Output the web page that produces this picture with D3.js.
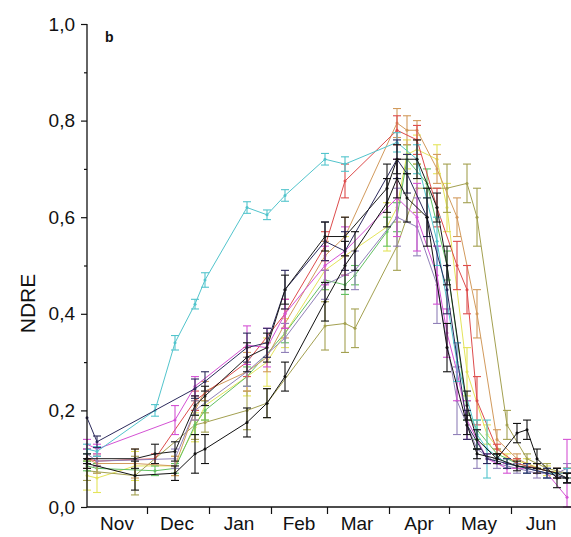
<!DOCTYPE html>
<html>
<head>
<meta charset="utf-8">
<script src="https://cdn.jsdelivr.net/npm/d3@7"></script>
<style>
  body { margin: 0; background: #fff; }
  text { font-family: "Liberation Sans", Arial, sans-serif; fill: #111; }
</style>
</head>
<body>
<script>
// [date, mean, sd]
const cyan = [
  ['2014-11-01', 0.12, 0.01], ['2014-11-06', 0.115, 0.01], ['2014-12-05', 0.20, 0.012],
  ['2014-12-15', 0.34, 0.015], ['2014-12-25', 0.42, 0.01], ['2014-12-30', 0.47, 0.015],
  ['2015-01-20', 0.62, 0.012], ['2015-01-30', 0.605, 0.01], ['2015-02-08', 0.645, 0.012],
  ['2015-02-28', 0.72, 0.012], ['2015-03-10', 0.71, 0.015], ['2015-04-05', 0.755, 0.02],
  ['2015-04-15', 0.72, 0.03], ['2015-04-25', 0.55, 0.05], ['2015-05-05', 0.30, 0.04],
  ['2015-05-15', 0.15, 0.03], ['2015-05-20', 0.12, 0.06], ['2015-05-30', 0.09, 0.01],
  ['2015-06-09', 0.08, 0.01], ['2015-06-19', 0.07, 0.01], ['2015-06-29', 0.07, 0.01]
]
const navy = [
  ['2014-11-01', 0.185, 0.0], ['2014-11-06', 0.135, 0.012], ['2014-12-25', 0.245, 0.02],
  ['2014-12-30', 0.26, 0.02], ['2015-01-20', 0.33, 0.03], ['2015-01-30', 0.34, 0.03],
  ['2015-02-08', 0.45, 0.04], ['2015-02-28', 0.55, 0.04], ['2015-03-10', 0.53, 0.04],
  ['2015-04-05', 0.72, 0.04], ['2015-04-10', 0.69, 0.04], ['2015-04-20', 0.60, 0.04],
  ['2015-04-30', 0.45, 0.05], ['2015-05-10', 0.17, 0.03], ['2015-05-20', 0.10, 0.01],
  ['2015-05-30', 0.09, 0.01], ['2015-06-09', 0.08, 0.01], ['2015-06-19', 0.07, 0.01],
  ['2015-06-29', 0.06, 0.01]
]
const magenta = [
  ['2014-11-01', 0.13, 0.01], ['2014-11-06', 0.12, 0.01], ['2014-12-15', 0.18, 0.03],
  ['2014-12-25', 0.25, 0.02], ['2015-01-20', 0.335, 0.04], ['2015-01-30', 0.33, 0.04],
  ['2015-02-08', 0.40, 0.03], ['2015-02-28', 0.50, 0.04], ['2015-03-10', 0.53, 0.05],
  ['2015-04-05', 0.64, 0.08], ['2015-04-15', 0.60, 0.07], ['2015-04-25', 0.48, 0.06],
  ['2015-04-30', 0.36, 0.05], ['2015-05-05', 0.28, 0.06], ['2015-05-10', 0.18, 0.04],
  ['2015-05-20', 0.10, 0.01], ['2015-05-30', 0.08, 0.01], ['2015-06-09', 0.08, 0.01],
  ['2015-06-19', 0.07, 0.01], ['2015-06-29', 0.02, 0.12]
]
const blackLow = [
  ['2014-11-01', 0.09, 0.01], ['2014-11-25', 0.065, 0.03], ['2014-12-15', 0.07, 0.015],
  ['2014-12-25', 0.11, 0.04], ['2014-12-30', 0.12, 0.03], ['2015-01-20', 0.175, 0.03],
  ['2015-01-30', 0.215, 0.03], ['2015-02-08', 0.27, 0.03], ['2015-02-28', 0.425, 0.04],
  ['2015-03-10', 0.50, 0.05], ['2015-03-15', 0.53, 0.04], ['2015-03-31', 0.63, 0.05],
  ['2015-04-05', 0.68, 0.04], ['2015-04-10', 0.64, 0.05], ['2015-04-20', 0.60, 0.06],
  ['2015-04-30', 0.33, 0.05], ['2015-05-10', 0.17, 0.02], ['2015-05-15', 0.11, 0.01],
  ['2015-05-25', 0.10, 0.01], ['2015-06-04', 0.153, 0.02], ['2015-06-09', 0.16, 0.02],
  ['2015-06-14', 0.10, 0.02], ['2015-06-24', 0.06, 0.02], ['2015-06-29', 0.06, 0.01]
]
const olive = [
  ['2014-11-01', 0.075, 0.02], ['2014-11-25', 0.065, 0.04], ['2014-12-25', 0.17, 0.03],
  ['2014-12-30', 0.175, 0.02], ['2015-01-20', 0.20, 0.04], ['2015-01-30', 0.215, 0.03],
  ['2015-02-28', 0.375, 0.05], ['2015-03-10', 0.38, 0.06], ['2015-03-15', 0.37, 0.04],
  ['2015-04-05', 0.54, 0.05], ['2015-04-15', 0.66, 0.05], ['2015-04-30', 0.66, 0.05],
  ['2015-05-10', 0.67, 0.04], ['2015-05-15', 0.60, 0.06], ['2015-05-30', 0.17, 0.03],
  ['2015-06-09', 0.10, 0.01], ['2015-06-19', 0.08, 0.01], ['2015-06-29', 0.07, 0.01]
]
const yellow = [
  ['2014-11-01', 0.065, 0.03], ['2014-11-06', 0.06, 0.03], ['2014-11-25', 0.085, 0.03],
  ['2014-12-15', 0.085, 0.02], ['2014-12-25', 0.165, 0.03], ['2014-12-30', 0.21, 0.03],
  ['2015-01-20', 0.27, 0.04], ['2015-01-30', 0.30, 0.05], ['2015-02-08', 0.36, 0.03],
  ['2015-02-28', 0.49, 0.04], ['2015-03-10', 0.52, 0.04], ['2015-03-31', 0.58, 0.05],
  ['2015-04-05', 0.62, 0.06], ['2015-04-10', 0.73, 0.03], ['2015-04-15', 0.74, 0.03],
  ['2015-04-25', 0.72, 0.03], ['2015-04-30', 0.62, 0.05], ['2015-05-10', 0.28, 0.05],
  ['2015-05-20', 0.15, 0.02], ['2015-05-30', 0.10, 0.01], ['2015-06-09', 0.09, 0.01],
  ['2015-06-19', 0.075, 0.01], ['2015-06-29', 0.07, 0.01]
]
const red = [
  ['2014-11-01', 0.10, 0.01], ['2014-11-06', 0.095, 0.01], ['2014-12-05', 0.10, 0.01],
  ['2014-12-25', 0.22, 0.02], ['2015-01-20', 0.30, 0.03], ['2015-02-08', 0.40, 0.03],
  ['2015-02-28', 0.54, 0.03], ['2015-03-10', 0.675, 0.035], ['2015-04-05', 0.78, 0.03],
  ['2015-04-15', 0.76, 0.03], ['2015-04-25', 0.62, 0.04], ['2015-05-05', 0.50, 0.05],
  ['2015-05-10', 0.45, 0.05], ['2015-05-15', 0.22, 0.05], ['2015-05-25', 0.12, 0.01],
  ['2015-06-04', 0.09, 0.01], ['2015-06-14', 0.08, 0.01], ['2015-06-24', 0.07, 0.01],
  ['2015-06-29', 0.07, 0.01]
]
const tan = [
  ['2014-11-01', 0.10, 0.02], ['2014-11-06', 0.09, 0.02], ['2014-11-25', 0.09, 0.03],
  ['2014-12-15', 0.085, 0.02], ['2014-12-25', 0.20, 0.02], ['2014-12-30', 0.24, 0.02],
  ['2015-01-20', 0.28, 0.04], ['2015-01-30', 0.31, 0.03], ['2015-02-08', 0.38, 0.03],
  ['2015-02-28', 0.52, 0.03], ['2015-03-10', 0.56, 0.04], ['2015-04-05', 0.795, 0.03],
  ['2015-04-10', 0.78, 0.03], ['2015-04-15', 0.78, 0.02], ['2015-04-25', 0.70, 0.03],
  ['2015-05-05', 0.60, 0.04], ['2015-05-15', 0.40, 0.05], ['2015-05-25', 0.14, 0.02],
  ['2015-06-04', 0.10, 0.01], ['2015-06-14', 0.08, 0.01], ['2015-06-24', 0.07, 0.01],
  ['2015-06-29', 0.07, 0.01]
]
const green = [
  ['2014-11-01', 0.085, 0.01], ['2014-11-06', 0.08, 0.01], ['2014-12-05', 0.075, 0.01],
  ['2014-12-15', 0.08, 0.01], ['2014-12-25', 0.17, 0.02], ['2014-12-30', 0.20, 0.02],
  ['2015-01-20', 0.27, 0.02], ['2015-02-08', 0.36, 0.02], ['2015-02-28', 0.47, 0.02],
  ['2015-03-10', 0.46, 0.02], ['2015-03-15', 0.48, 0.02], ['2015-03-31', 0.57, 0.03],
  ['2015-04-05', 0.60, 0.03], ['2015-04-10', 0.72, 0.03], ['2015-04-20', 0.67, 0.03],
  ['2015-04-30', 0.50, 0.03], ['2015-05-10', 0.20, 0.02], ['2015-05-15', 0.16, 0.02],
  ['2015-05-25', 0.11, 0.01], ['2015-06-04', 0.09, 0.01], ['2015-06-14', 0.08, 0.01],
  ['2015-06-24', 0.07, 0.01], ['2015-06-29', 0.07, 0.01]
]
const violet = [
  ['2014-11-01', 0.11, 0.01], ['2014-11-06', 0.095, 0.01], ['2014-12-15', 0.10, 0.02],
  ['2014-12-25', 0.20, 0.02], ['2015-01-20', 0.28, 0.03], ['2015-02-08', 0.35, 0.03],
  ['2015-02-28', 0.46, 0.03], ['2015-03-15', 0.49, 0.04], ['2015-04-05', 0.60, 0.06],
  ['2015-04-15', 0.58, 0.06], ['2015-04-25', 0.46, 0.08], ['2015-05-05', 0.22, 0.07],
  ['2015-05-15', 0.12, 0.04], ['2015-05-25', 0.09, 0.01], ['2015-06-04', 0.08, 0.01],
  ['2015-06-14', 0.07, 0.01], ['2015-06-24', 0.07, 0.01], ['2015-06-29', 0.08, 0.01]
]
const blackMid = [
  ['2014-11-01', 0.10, 0.01], ['2014-11-25', 0.10, 0.02], ['2014-12-05', 0.11, 0.02],
  ['2014-12-15', 0.115, 0.02], ['2014-12-25', 0.21, 0.02], ['2014-12-30', 0.23, 0.02],
  ['2015-01-20', 0.31, 0.03], ['2015-01-30', 0.33, 0.03], ['2015-02-08', 0.45, 0.03],
  ['2015-02-28', 0.56, 0.03], ['2015-03-10', 0.56, 0.04], ['2015-03-31', 0.66, 0.05],
  ['2015-04-05', 0.72, 0.03], ['2015-04-15', 0.72, 0.04], ['2015-04-25', 0.62, 0.03],
  ['2015-04-30', 0.50, 0.04], ['2015-05-10', 0.21, 0.03], ['2015-05-15', 0.14, 0.02],
  ['2015-05-25', 0.10, 0.01], ['2015-06-04', 0.085, 0.01], ['2015-06-14', 0.08, 0.01],
  ['2015-06-24', 0.07, 0.01], ['2015-06-29', 0.06, 0.01]
]

const seriesList = [
  {name: 'yellow', color: '#e4e45a', data: yellow},
  {name: 'olive', color: '#a3a050', data: olive},
  {name: 'green', color: '#62c062', data: green},
  {name: 'tan', color: '#d29a5c', data: tan},
  {name: 'red', color: '#dd4c4c', data: red},
  {name: 'violet', color: '#9080b8', data: violet},
  {name: 'magenta', color: '#d452d4', data: magenta},
  {name: 'cyan', color: '#52c4cc', data: cyan},
  {name: 'navy', color: '#2c2a5c', data: navy},
  {name: 'blackMid', color: '#1a1a1a', data: blackMid},
  {name: 'blackLow', color: '#111111', data: blackLow},
]

const yTicks = [0, 0.2, 0.4, 0.6, 0.8, 1.0]
const yMinorTicks = [0.1, 0.3, 0.5, 0.7, 0.9]
const monthBounds = ['2014-12-01', '2015-01-01', '2015-02-01', '2015-03-01', '2015-04-01', '2015-05-01', '2015-06-01']
const monthLabels = ['Nov', 'Dec', 'Jan', 'Feb', 'Mar', 'Apr', 'May', 'Jun']
const monthMids = ['2014-11-16', '2014-12-16', '2015-01-16', '2015-02-15', '2015-03-16', '2015-04-16', '2015-05-16', '2015-06-16']

const width = 571
const height = 537
const margin = {top: 24, right: 0, bottom: 30, left: 87}
const parse = d3.timeParse('%Y-%m-%d')
const comma = d3.formatLocale({decimal: ',', thousands: '.', grouping: [3], currency: ['', '']}).format('.1f')

const x = d3.scaleTime()
  .domain([parse('2014-11-01'), parse('2015-07-01')])
  .range([margin.left, width - margin.right])
const y = d3.scaleLinear()
  .domain([0, 1])
  .range([height - margin.bottom, margin.top])

const svg = d3.select('body').append('svg')
  .attr('width', width)
  .attr('height', height)

const plot = svg.append('g').attr('class', 'marks')

const line = d3.line()
  .x(d => x(parse(d[0])))
  .y(d => y(d[1]))

seriesList.forEach(s => {
  const g = plot.append('g').attr('class', 'series series-' + s.name)

  // error bars
  const bars = g.selectAll('.err')
    .data(s.data.filter(d => d[2] > 0))
    .enter().append('g')
    .attr('class', 'err')
    .attr('stroke', s.color)
    .attr('stroke-width', 1.1)
  const cap = 4
  bars.append('line')
    .attr('x1', d => x(parse(d[0]))).attr('x2', d => x(parse(d[0])))
    .attr('y1', d => y(Math.max(0, d[1] - d[2]))).attr('y2', d => y(d[1] + d[2]))
  bars.append('line')
    .attr('x1', d => x(parse(d[0])) - cap).attr('x2', d => x(parse(d[0])) + cap)
    .attr('y1', d => y(d[1] + d[2])).attr('y2', d => y(d[1] + d[2]))
  bars.append('line')
    .attr('x1', d => x(parse(d[0])) - cap).attr('x2', d => x(parse(d[0])) + cap)
    .attr('y1', d => y(Math.max(0, d[1] - d[2]))).attr('y2', d => y(Math.max(0, d[1] - d[2])))

  g.append('path')
    .datum(s.data)
    .attr('fill', 'none')
    .attr('stroke', s.color)
    .attr('stroke-width', 1)
    .attr('d', line)

  g.selectAll('.pt')
    .data(s.data)
    .enter().append('circle')
    .attr('class', 'pt')
    .attr('cx', d => x(parse(d[0])))
    .attr('cy', d => y(d[1]))
    .attr('r', 1.5)
    .attr('fill', s.color)
})

// y axis
const yAxis = d3.axisLeft(y).tickValues(yTicks).tickFormat(comma).tickSize(6).tickPadding(6)
const gy = svg.append('g')
  .attr('class', 'axis axis-y')
  .attr('transform', `translate(${margin.left},0)`)
  .call(yAxis)
gy.select('.domain').attr('d', `M0,${y(1)}V${y(0)}`).attr('stroke', '#111').attr('stroke-width', 1.3)
gy.selectAll('.tick line').attr('stroke', '#111').attr('stroke-width', 1.2)
gy.selectAll('.tick text').style('font-size', '19px').style('font-family', '"Liberation Sans", Arial, sans-serif').attr('fill', '#111')
svg.append('g')
  .attr('class', 'axis axis-y-minor')
  .attr('transform', `translate(${margin.left},0)`)
  .call(d3.axisLeft(y).tickValues(yMinorTicks).tickFormat('').tickSize(3))
  .call(g => g.select('.domain').remove())
  .selectAll('.tick line').attr('stroke', '#111').attr('stroke-width', 1.2)

// x axis
const xAxis = d3.axisBottom(x).tickValues(monthBounds.map(parse)).tickFormat('').tickSize(7)
const gx = svg.append('g')
  .attr('class', 'axis axis-x')
  .attr('transform', `translate(0,${y(0)})`)
  .call(xAxis)
gx.select('.domain').attr('d', `M${margin.left},0H${width}`).attr('stroke', '#111').attr('stroke-width', 1.3)
gx.selectAll('.tick line').attr('stroke', '#111').attr('stroke-width', 1.2)

svg.append('g').attr('class', 'month-labels')
  .selectAll('text')
  .data(monthLabels)
  .enter().append('text')
  .attr('x', (d, i) => x(parse(monthMids[i])))
  .attr('y', y(0) + 23)
  .attr('text-anchor', 'middle')
  .style('font-size', '19px')
  .text(d => d)

svg.append('text')
  .attr('transform', `translate(35,${(y(0) + y(1)) / 2 + 38}) rotate(-90)`)
  .attr('text-anchor', 'middle')
  .style('font-size', '21px')
  .text('NDRE')

svg.append('text')
  .attr('x', 105)
  .attr('y', 42)
  .style('font-size', '14px')
  .style('font-weight', 'bold')
  .text('b')
</script>
</body>
</html>
